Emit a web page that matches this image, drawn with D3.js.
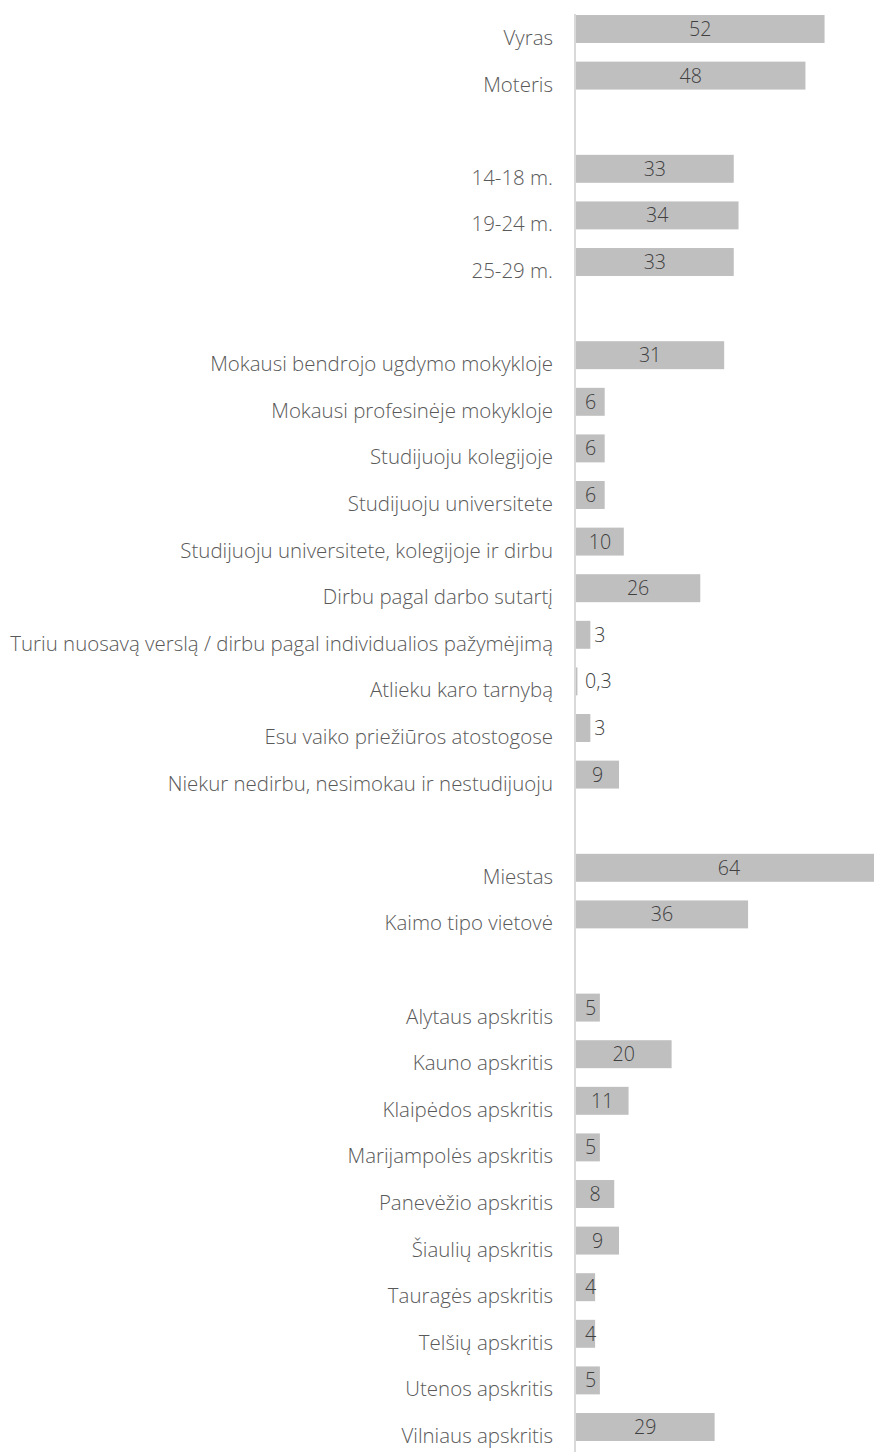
<!DOCTYPE html>
<html>
<head>
<meta charset="utf-8">
<script src="https://cdn.jsdelivr.net/npm/d3@7"></script>
<style>
  html, body { margin: 0; padding: 0; background: #fff; }
  svg { display: block; }
</style>
</head>
<body>
<script>
// values in %
var genderLabels = ["Vyras", "Moteris"];
var genderValues = [52, 48];

var ageLabels = ["14-18 m.", "19-24 m.", "25-29 m."];
var ageValues = [33, 34, 33];

var statusLabels = [
  "Mokausi bendrojo ugdymo mokykloje",
  "Mokausi profesinėje mokykloje",
  "Studijuoju kolegijoje",
  "Studijuoju universitete",
  "Studijuoju universitete, kolegijoje ir dirbu",
  "Dirbu pagal darbo sutartį",
  "Turiu nuosavą verslą / dirbu pagal individualios pažymėjimą",
  "Atlieku karo tarnybą",
  "Esu vaiko priežiūros atostogose",
  "Niekur nedirbu, nesimokau ir nestudijuoju"
];
var statusValues = [31, 6, 6, 6, 10, 26, 3, 0.3, 3, 9];

var placeLabels = ["Miestas", "Kaimo tipo vietovė"];
var placeValues = [64, 36];

var countyLabels = [
  "Alytaus apskritis", "Kauno apskritis", "Klaipėdos apskritis",
  "Marijampolės apskritis", "Panevėžio apskritis", "Šiaulių apskritis",
  "Tauragės apskritis", "Telšių apskritis", "Utenos apskritis",
  "Vilniaus apskritis"
];
var countyValues = [5, 20, 11, 5, 8, 9, 4, 4, 5, 29];

(function () {
  "use strict";

  var width = 874,
    height = 1452,
    axisX = 575,
    font = "'Open Sans', 'Noto Sans', sans-serif";

  // build rows, with an empty row between groups
  var groups = [
      [genderLabels, genderValues],
      [ageLabels, ageValues],
      [statusLabels, statusValues],
      [placeLabels, placeValues],
      [countyLabels, countyValues]
    ],
    rows = [];

  groups.forEach(function (g, gi) {
    if (gi > 0) {
      rows.push(null);
    }
    g[0].forEach(function (lab, i) {
      rows.push({label: lab, value: g[1][i]});
    });
  });
  rows.forEach(function (r, i) {
    if (r) { r.idx = i; }
  });
  var bars = rows.filter(function (r) { return r; });

  var lt = d3.formatLocale({decimal: ",", thousands: " ", grouping: [3], currency: ["", ""]}),
    fmt = lt.format("~g");

  var x = d3.scaleLinear().domain([0, 70]).range([axisX + 1, axisX + 1 + 70 * 4.78]);
  var y = d3.scaleBand()
    .domain(d3.range(rows.length))
    .range([5.7, 1450.3])
    .paddingInner(0.4)
    .paddingOuter(0.2);

  var svg = d3.select("body").append("svg")
    .attr("width", width)
    .attr("height", height);

  // bars
  svg.append("g").selectAll("rect")
    .data(bars)
    .join("rect")
    .attr("x", x(0))
    .attr("y", function (d) { return y(d.idx); })
    .attr("width", function (d) { return x(d.value) - x(0); })
    .attr("height", y.bandwidth())
    .attr("fill", "#bfbfbf");

  // vertical axis line
  svg.append("line")
    .attr("x1", axisX).attr("x2", axisX)
    .attr("y1", 14).attr("y2", height)
    .attr("stroke", "#d9d9d9")
    .attr("stroke-width", 2);

  // category labels
  var cats = svg.append("g").selectAll("text")
    .data(bars)
    .join("text")
    .attr("x", 553)
    .attr("y", function (d) { return y(d.idx) + y.bandwidth() / 2 + 16; })
    .attr("text-anchor", "end")
    .attr("font-family", font)
    .attr("font-weight", 300)
    .attr("font-size", 20)
    .attr("fill", "#595959")
    .text(function (d) { return d.label; });

  // fit font size so the longest label spans like in the picture
  var longest = d3.max(cats.nodes(), function (n) { return n.getComputedTextLength(); }),
    fs = 20 * 543 / longest;
  cats.attr("font-size", fs);

  // value labels
  var vfs = 19.6;
  var vals = svg.append("g").selectAll("text")
    .data(bars)
    .join("text")
    .attr("font-family", font)
    .attr("font-weight", 300)
    .attr("font-size", vfs)
    .attr("fill", "#404040")
    .attr("y", function (d) { return y(d.idx) + y.bandwidth() / 2 + vfs * 0.36; })
    .text(function (d) { return fmt(d.value); });

  vals.attr("x", function (d) {
    var tw = this.getComputedTextLength(),
      end = x(d.value),
      w = end - x(0);
    if (w < 16) {
      return Math.max(end + 4, x(0) + 9);
    }
    return Math.max((x(0) + end) / 2 - tw / 2, x(0) + 9);
  });
}());
</script>
</body>
</html>
